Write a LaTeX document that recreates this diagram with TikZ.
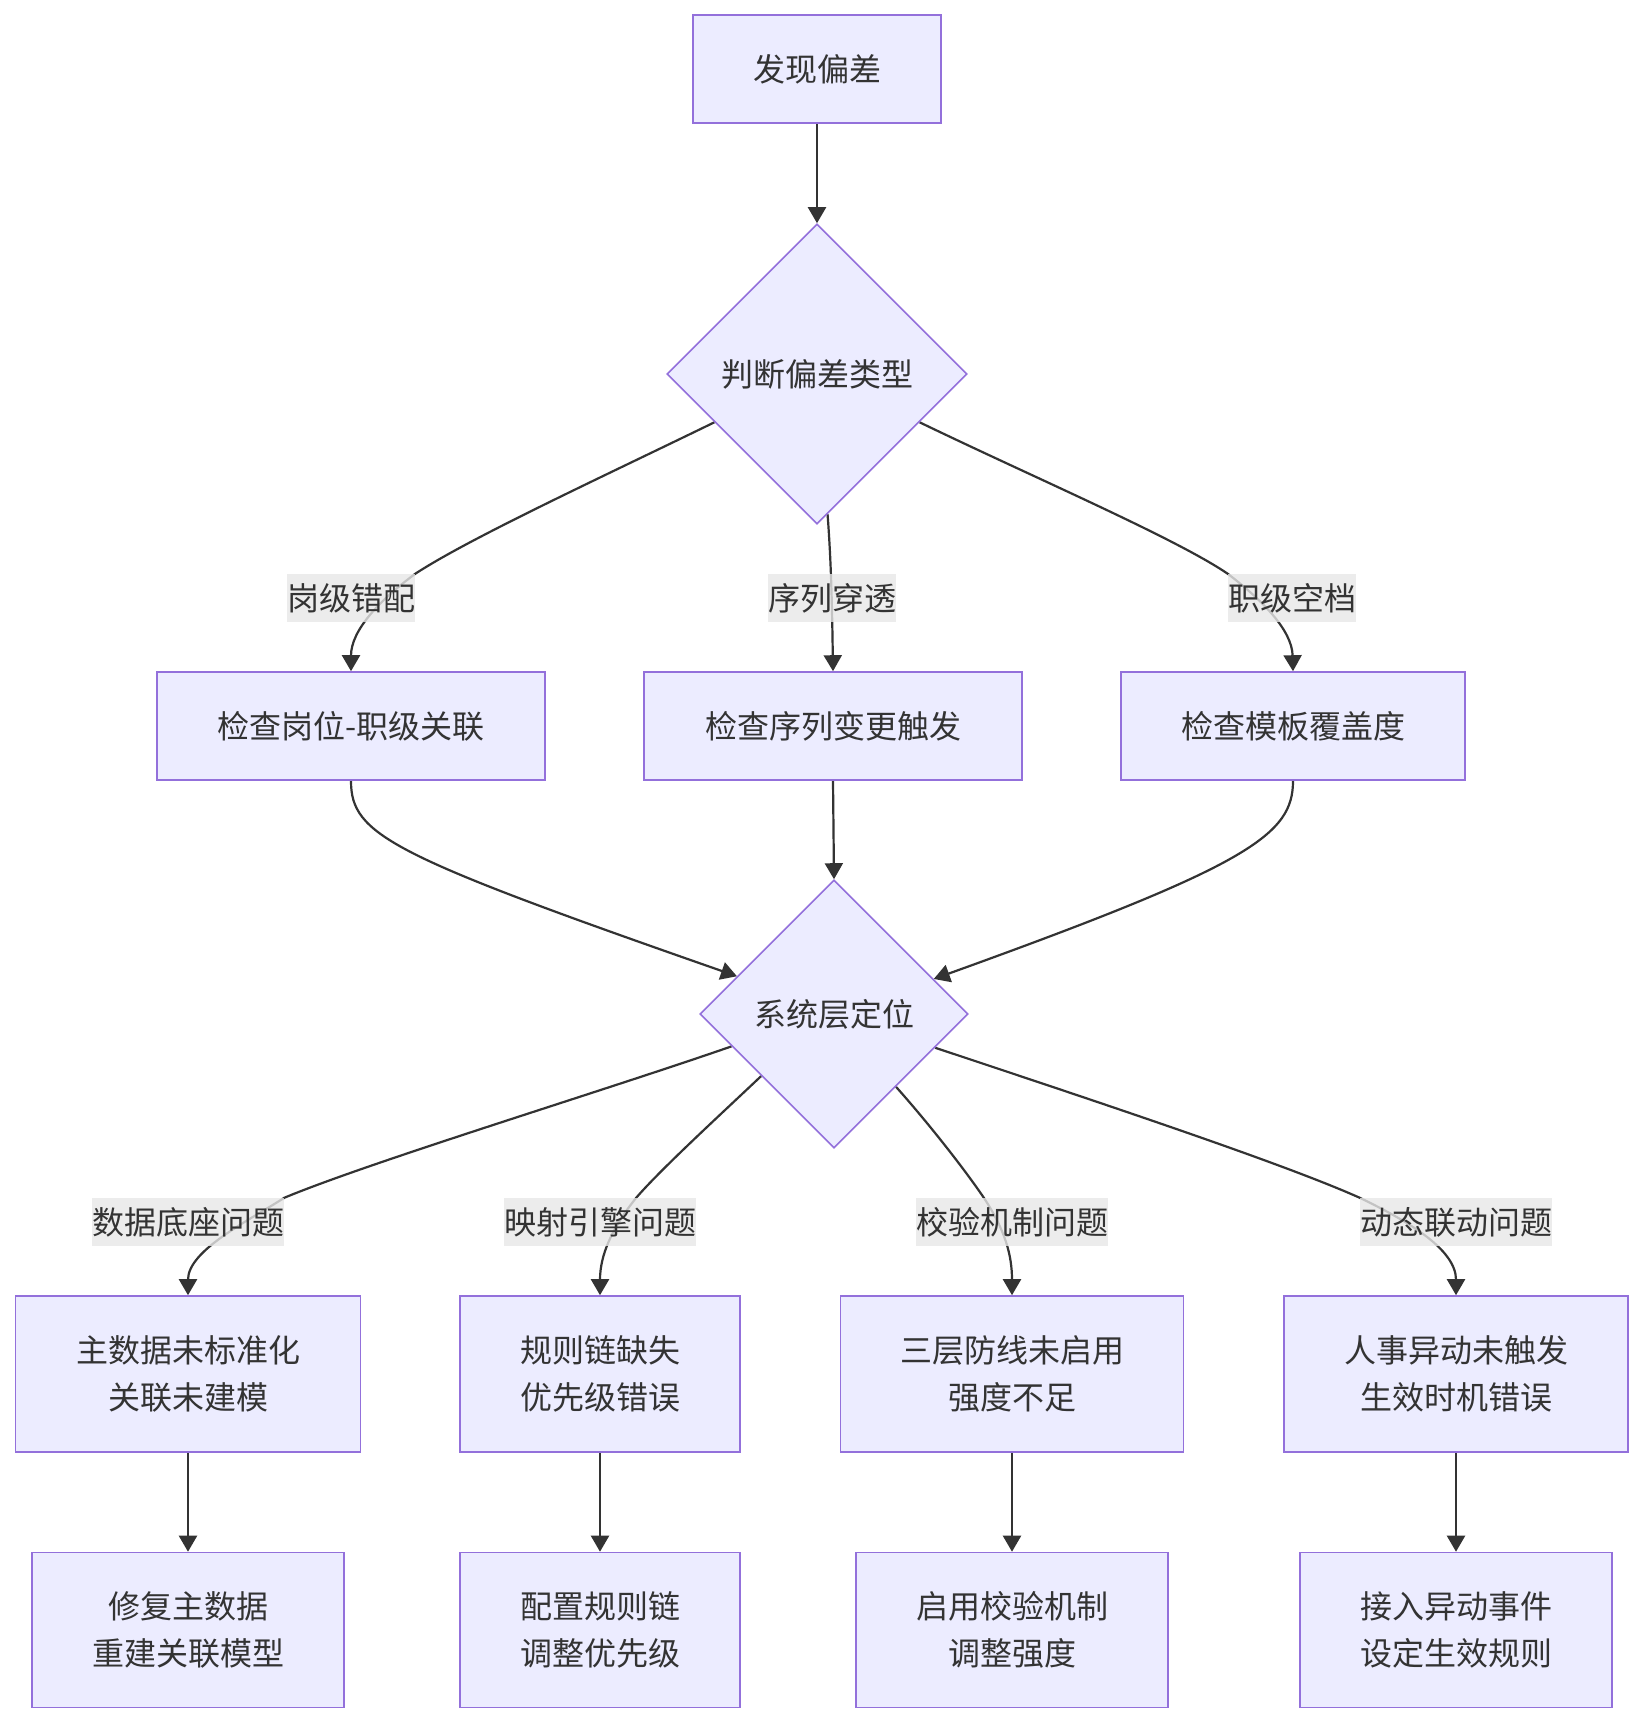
\documentclass[tikz,border=0pt]{standalone}
\usepackage{fontspec}
\setmainfont{Noto Sans CJK SC}
\usetikzlibrary{shapes.geometric,arrows.meta,calc}
\definecolor{nodefill}{HTML}{ECECFF}
\definecolor{nodeline}{HTML}{9370DB}
\definecolor{ink}{HTML}{333333}
\definecolor{labbg}{HTML}{E8E8E8}
\pgfdeclarelayer{bg}
\pgfsetlayers{bg,main}
\begin{document}
\begin{tikzpicture}[x=1pt,y=-1pt,
 box/.style={draw=nodeline,fill=nodefill,line width=1.6pt,text=ink,inner sep=0pt,align=center,font=\fontsize{32}{47}\selectfont},
 dia/.style={diamond,draw=nodeline,fill=nodefill,line width=1.6pt,text=ink,inner sep=0pt,font=\fontsize{32}{47}\selectfont},
 lab/.style={fill=labbg,fill opacity=0.8,text opacity=1,text=ink,inner xsep=0pt,inner ysep=0pt,minimum height=48pt,font=\fontsize{32}{40}\selectfont},
 edge/.style={draw=ink,line width=2.2pt},
 arr/.style={edge,-{Triangle[length=16pt,width=18pt]}}]
\useasboundingbox (0,0) rectangle (1644,1724);
% nodes
\node[box,minimum width=248pt,minimum height=108pt] (n0) at (817,69) {发现偏差};
\node[dia,minimum width=300pt,minimum height=300pt] (d1) at (817,374) {判断偏差类型};
\node[lab] (l1) at (351,598) {岗级错配};
\node[lab] (l2) at (832,598) {序列穿透};
\node[lab] (l3) at (1292,598) {职级空档};
\node[box,minimum width=388pt,minimum height=108pt] (r1) at (351,726) {检查岗位-职级关联};
\node[box,minimum width=378pt,minimum height=108pt] (r2) at (833,726) {检查序列变更触发};
\node[box,minimum width=344pt,minimum height=108pt] (r3) at (1293,726) {检查模板覆盖度};
\node[dia,minimum width=268pt,minimum height=268pt] (d2) at (834,1014) {系统层定位};
\node[lab] (l4) at (188,1222) {数据底座问题};
\node[lab] (l5) at (600,1222) {映射引擎问题};
\node[lab] (l6) at (1012,1222) {校验机制问题};
\node[lab] (l7) at (1456,1222) {动态联动问题};
\node[box,minimum width=345pt,minimum height=156pt] (s1) at (188,1374) {主数据未标准化\\关联未建模};
\node[box,minimum width=280pt,minimum height=156pt] (s2) at (600,1374) {规则链缺失\\优先级错误};
\node[box,minimum width=343pt,minimum height=156pt] (s3) at (1012,1374) {三层防线未启用\\强度不足};
\node[box,minimum width=344pt,minimum height=156pt] (s4) at (1456,1374) {人事异动未触发\\生效时机错误};
\node[box,minimum width=312pt,minimum height=155pt] (f1) at (188,1630) {修复主数据\\重建关联模型};
\node[box,minimum width=280pt,minimum height=155pt] (f2) at (600,1630) {配置规则链\\调整优先级};
\node[box,minimum width=312pt,minimum height=155pt] (f3) at (1012,1630) {启用校验机制\\调整强度};
\node[box,minimum width=312pt,minimum height=155pt] (f4) at (1456,1630) {接入异动事件\\设定生效规则};
% edges
\begin{pgfonlayer}{bg}
\fill[white] (0,0) rectangle (1644,1724);
\draw[arr] (n0.south) -- (d1.north);
\draw[arr] ($(d1.west)!0.32!(d1.south)$) .. controls (600,478) and (470,538) .. (l1.north east) .. controls (380,600) and (351,630) .. (r1.north);
\draw[arr] ($(d1.south)!0.07!(d1.east)$) .. controls (831,560) and (832,600) .. (r2.north);
\draw[arr] ($(d1.east)!0.32!(d1.south)$) .. controls (1035,478) and (1175,538) .. (l3.north west) .. controls (1262,600) and (1292,630) .. (r3.north);
\draw[arr] (r1.south) .. controls (351,835) and (390,855) .. ($(d2.west)!0.28!(d2.north)$);
\draw[arr] (r2.south) -- (d2.north);
\draw[arr] (r3.south) .. controls (1293,835) and (1250,865) .. ($(d2.east)!0.26!(d2.north)$);
\draw[arr] ($(d2.west)!0.24!(d2.south)$) .. controls (600,1092) and (370,1162) .. (l4.north east) .. controls (250,1220) and (188,1250) .. (s1.north);
\draw[arr] ($(d2.west)!0.46!(d2.south)$) .. controls (720,1115) and (660,1170) .. (636,1198) .. controls (612,1228) and (600,1255) .. (s2.north);
\draw[arr] ($(d2.east)!0.54!(d2.south)$) .. controls (930,1125) and (965,1170) .. (984,1198) .. controls (1005,1230) and (1012,1255) .. (s3.north);
\draw[arr] ($(d2.east)!0.25!(d2.south)$) .. controls (1080,1096) and (1280,1162) .. (l7.north west) .. controls (1410,1222) and (1456,1250) .. (s4.north);
\draw[arr] (s1.south) -- (f1.north);
\draw[arr] (s2.south) -- (f2.north);
\draw[arr] (s3.south) -- (f3.north);
\draw[arr] (s4.south) -- (f4.north);
\end{pgfonlayer}
\end{tikzpicture}
\end{document}
